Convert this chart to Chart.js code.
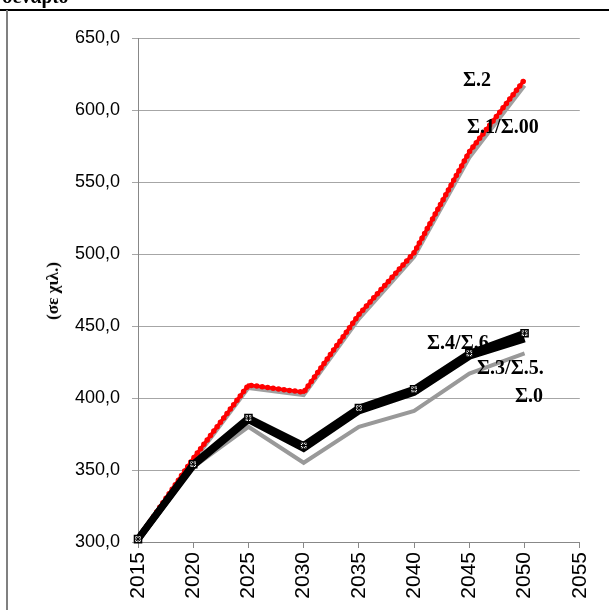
<!DOCTYPE html>
<html>
<head>
<meta charset="utf-8">
<script src="https://cdn.jsdelivr.net/npm/chart.js@4"></script>
<style>
  html, body { margin: 0; padding: 0; background: #fff; overflow: hidden; }
  #wrap { position: relative; width: 609px; height: 610px; }
  #chart { position: absolute; left: 0; top: 0; }
  .frame-top { position: absolute; left: 0; top: 9px; width: 609px; height: 2px; background: #000; }
  .frame-left { position: absolute; left: 6px; top: 10px; width: 2px; height: 600px; background: #808080; }
  .cut { position: absolute; left: 2px; top: -15px; font: bold 20px 'Liberation Serif', serif; color: #000; }
  .lbl { position: absolute; font: bold 20px 'Liberation Serif', serif; color: #000; white-space: nowrap; line-height: 1; }
  .ytitle { position: absolute; left: 53px; top: 291px; font: bold 17px 'Liberation Serif', serif; color: #000;
            transform: translate(-50%, -50%) rotate(-90deg); white-space: nowrap; }
</style>
</head>
<body>
<div id="wrap">
  <canvas id="chart" width="609" height="610"></canvas>
  <div class="cut">σενάριο</div>
  <div class="frame-top"></div>
  <div class="frame-left"></div>
  <div class="ytitle">(σε χιλ.)</div>
  <div class="lbl" style="left:463px; top:69px;">Σ.2</div>
  <div class="lbl" style="left:467px; top:116px;">Σ.1/Σ.00</div>
  <div class="lbl" style="left:427px; top:332px;">Σ.4/Σ.6</div>
  <div class="lbl" style="left:477px; top:357px;">Σ.3/Σ.5.</div>
  <div class="lbl" style="left:515px; top:385px;">Σ.0</div>
</div>
<script>
// years on the x axis
const years = [2015, 2020, 2025, 2030, 2035, 2040, 2045, 2050];

// scenario values (thousands)
const s2    = [302, 358, 409, 404, 458, 501, 571, 621];
const s1_00 = [302, 356, 407, 402, 455, 498, 567, 617];
const s4_6  = [302, 354, 386, 367, 393, 406, 431, 445];
const s3_5  = [302, 353, 385, 365, 391, 404, 429, 441];
const s0    = [302, 352, 380, 355, 380, 391, 417, 431];

const yMin = 300, yMax = 650, yStep = 50;
const xMin = 2015, xMax = 2055, xStep = 5;

const pts = arr => years.map((x, i) => ({ x, y: arr[i] }));

// listed bottom-most first; reversed below because Chart.js paints dataset 0 last
const datasets = [
  {
    label: 'Σ.0',
    data: pts(s0),
    borderColor: '#999999',
    borderWidth: 4,
    pointRadius: 0,
  },
  {
    label: 'Σ.1/Σ.00',
    data: pts(s1_00),
    borderColor: '#a0a0a0',
    borderWidth: 4,
    pointRadius: 0,
  },
  {
    label: 'Σ.2',
    data: pts(s2),
    borderColor: '#ff0000',
    borderWidth: 3.5,
    pointRadius: 0,
  },
  {
    // round-dot texture on the red line
    label: 'Σ.2 dots',
    data: pts(s2),
    borderColor: '#ff0000',
    borderWidth: 5.5,
    borderDash: [0, 5.5],
    borderCapStyle: 'round',
    pointRadius: 0,
  },
  {
    label: 'Σ.3/Σ.5',
    data: pts(s3_5),
    borderColor: '#000',
    borderWidth: 7,
    pointRadius: 0,
  },
  {
    label: 'Σ.4/Σ.6',
    data: pts(s4_6),
    borderColor: '#000',
    borderWidth: 7,
    pointStyle: 'rect',
    pointRadius: 5,
    pointBackgroundColor: '#fff',
    pointBorderColor: '#000',
    pointBorderWidth: 1.5,
    clip: false,
  },
  {
    label: 'Σ.4/Σ.6 marker',
    data: pts(s4_6),
    showLine: false,
    pointStyle: 'star',
    pointRadius: 3.5,
    pointBorderColor: '#000',
    pointBorderWidth: 1,
    clip: false,
  },
].reverse();

new Chart(document.getElementById('chart'), {
  type: 'line',
  data: { datasets },
  options: {
    responsive: false,
    animation: false,
    devicePixelRatio: 1,
    layout: { padding: { left: 0, top: 38, right: 24, bottom: 0 } },
    plugins: {
      legend: { display: false },
      tooltip: { enabled: false },
    },
    scales: {
      x: {
        type: 'linear',
        min: xMin,
        max: xMax,
        afterFit: s => { s.height = 68; },
        ticks: {
          stepSize: xStep,
          minRotation: 90,
          maxRotation: 90,
          padding: 4,
          color: '#000',
          font: { family: 'Liberation Sans', size: 21 },
          callback: v => String(v),
        },
        grid: { drawOnChartArea: false, drawTicks: true, tickLength: 6, color: '#888' },
        border: { color: '#888', width: 1 },
      },
      y: {
        min: yMin,
        max: yMax,
        afterFit: s => { s.width = 138; },
        ticks: {
          stepSize: yStep,
          padding: 12,
          color: '#000',
          font: { family: 'Liberation Sans', size: 18 },
          callback: v => v.toFixed(1).replace('.', ','),
        },
        grid: { color: '#a6a6a6', tickLength: 6, drawTicks: true },
        border: { color: '#888', width: 1 },
      },
    },
  },
});
</script>
</body>
</html>
